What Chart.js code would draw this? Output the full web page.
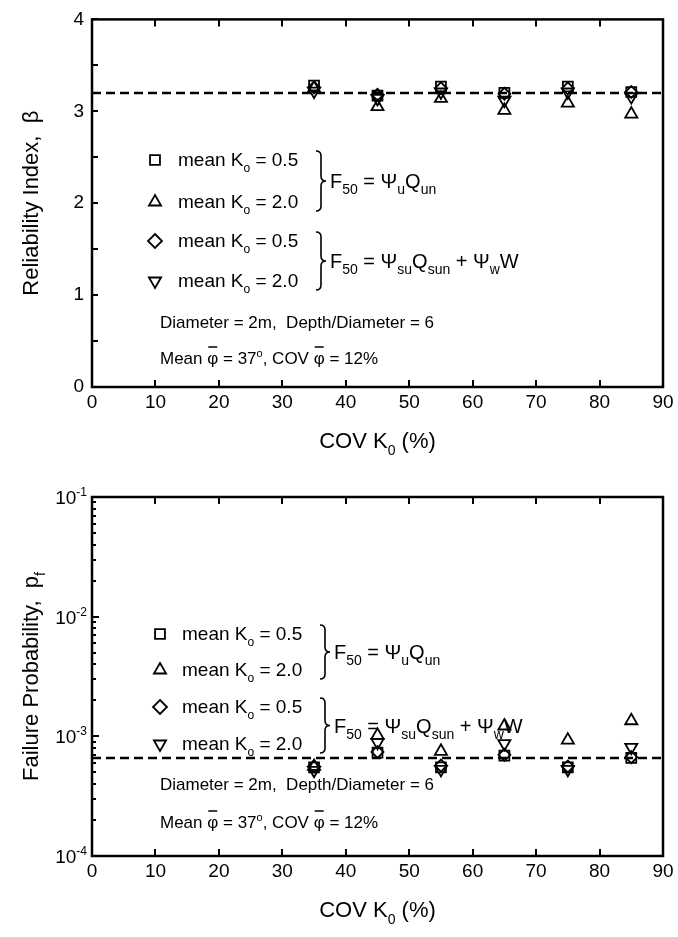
<!DOCTYPE html>
<html>
<head>
<meta charset="utf-8">
<script src="https://cdn.jsdelivr.net/npm/chart.js@4.4.1/dist/chart.umd.min.js"></script>
<style>
  html, body { margin: 0; padding: 0; background: #fff; }
  .box { position: relative; width: 678px; }
  #top-box { height: 468px; }
  #bottom-box { height: 469px; }
</style>
</head>
<body>
<div class="box" id="top-box"><canvas id="chart-beta"></canvas></div>
<div class="box" id="bottom-box"><canvas id="chart-pf"></canvas></div>
<script>
// COV of K0 (%)
const covK0 = [35, 45, 55, 65, 75, 85];
const xRange = [0, 90];
const xTickStep = 10;

// reliability index beta
const betaU05 = [3.28, 3.17, 3.27, 3.20, 3.27, 3.21];
const betaU20 = [3.25, 3.05, 3.14, 3.01, 3.09, 2.97];
const betaSu05 = [3.26, 3.18, 3.25, 3.19, 3.25, 3.21];
const betaSu20 = [3.22, 3.14, 3.21, 3.12, 3.21, 3.16];
const betaTarget = 3.2;
const betaRange = [0, 4];
const betaTickStep = 0.5;

// failure probability pf
const pfU05 = [5.5e-4, 7.3e-4, 5.5e-4, 6.9e-4, 5.5e-4, 6.6e-4];
const pfU20 = [5.6e-4, 1.02e-3, 7.5e-4, 1.22e-3, 9.3e-4, 1.35e-3];
const pfSu05 = [5.6e-4, 7.4e-4, 5.7e-4, 7.0e-4, 5.6e-4, 6.7e-4];
const pfSu20 = [5.2e-4, 8.9e-4, 5.3e-4, 8.7e-4, 5.3e-4, 8.1e-4];
const pfTarget = 6.6e-4;
const pfExponents = [-4, -3, -2, -1];

const FONT = "'Liberation Sans', Arial, Helvetica, sans-serif";

// tiny markup: _{sub} ^{sup} ~{overbar}
function parseRich(str) {
  const segs = [];
  const re = /([_^~])\{([^}]*)\}/g;
  let last = 0, m;
  while ((m = re.exec(str))) {
    if (m.index > last) segs.push({ t: str.slice(last, m.index) });
    segs.push({ t: m[2], sub: m[1] === '_', sup: m[1] === '^', bar: m[1] === '~' });
    last = re.lastIndex;
  }
  if (last < str.length) segs.push({ t: str.slice(last) });
  return segs;
}

function drawRich(ctx, str, x, y, size, align, subScale) {
  const k = subScale || 0.64;
  const parts = parseRich(str).map((s) => {
    const sz = (s.sub || s.sup) ? Math.round(size * k) : size;
    ctx.font = `${sz}px ${FONT}`;
    return Object.assign({}, s, { sz, w: ctx.measureText(s.t).width });
  });
  const total = parts.reduce((a, p) => a + p.w, 0);
  let cx = x;
  if (align === 'center') cx = x - total / 2;
  if (align === 'right') cx = x - total;
  ctx.textAlign = 'left';
  ctx.textBaseline = 'alphabetic';
  parts.forEach((p) => {
    ctx.font = `${p.sz}px ${FONT}`;
    let dy = 0;
    if (p.sub) dy = size * 0.3;
    if (p.sup) dy = -size * 0.42;
    ctx.fillText(p.t, cx, y + dy);
    if (p.bar) {
      ctx.save();
      ctx.lineWidth = 1.5;
      ctx.beginPath();
      ctx.moveTo(cx + 1, y - size * 1.0);
      ctx.lineTo(cx + p.w - 1, y - size * 1.0);
      ctx.stroke();
      ctx.restore();
    }
    cx += p.w;
  });
  return total;
}

function drawMarker(ctx, style, x, y, r) {
  ctx.save();
  ctx.lineWidth = 1.8;
  ctx.strokeStyle = '#000';
  ctx.beginPath();
  if (style === 'rect') {
    const s = r * Math.SQRT1_2;
    ctx.rect(x - s, y - s, 2 * s, 2 * s);
  } else if (style === 'rectRot') {
    ctx.moveTo(x, y - r); ctx.lineTo(x + r, y); ctx.lineTo(x, y + r); ctx.lineTo(x - r, y); ctx.closePath();
  } else {
    const sign = style === 'down' ? -1 : 1;
    ctx.moveTo(x, y - sign * r);
    ctx.lineTo(x + r * 0.866, y + sign * r * 0.5);
    ctx.lineTo(x - r * 0.866, y + sign * r * 0.5);
    ctx.closePath();
  }
  ctx.stroke();
  ctx.restore();
}

function drawBrace(ctx, x, top, bottom) {
  const mid = (top + bottom) / 2;
  ctx.save();
  ctx.lineWidth = 1.6;
  ctx.beginPath();
  ctx.moveTo(x, top);
  ctx.quadraticCurveTo(x + 5, top, x + 5, top + 5);
  ctx.lineTo(x + 5, mid - 5);
  ctx.quadraticCurveTo(x + 5, mid, x + 10, mid);
  ctx.quadraticCurveTo(x + 5, mid, x + 5, mid + 5);
  ctx.lineTo(x + 5, bottom - 5);
  ctx.quadraticCurveTo(x + 5, bottom, x, bottom);
  ctx.stroke();
  ctx.restore();
}

// frame, inward ticks, custom labels and in-plot notes
const framePlugin = {
  id: 'frame',
  afterDraw(chart, args, opts) {
    const { ctx, chartArea: a } = chart;
    const xs = chart.scales.x;
    const ys = chart.scales.y;
    ctx.save();
    ctx.strokeStyle = '#000';
    ctx.fillStyle = '#000';

    // x ticks, bottom and top
    ctx.lineWidth = 2;
    xs.ticks.forEach((t) => {
      const px = Math.round(xs.getPixelForValue(t.value));
      ctx.beginPath();
      ctx.moveTo(px, a.bottom); ctx.lineTo(px, a.bottom - 7);
      ctx.moveTo(px, a.top); ctx.lineTo(px, a.top + 7);
      ctx.stroke();
    });

    // y ticks on the left
    if (ys.type === 'logarithmic') {
      pfExponents.forEach((e, i) => {
        for (let m = 1; m <= 9; m++) {
          if (i === pfExponents.length - 1 && m > 1) break;
          const py = Math.round(ys.getPixelForValue(m * Math.pow(10, e)));
          const len = m === 1 ? 7 : 4;
          ctx.beginPath();
          ctx.moveTo(a.left, py); ctx.lineTo(a.left + len, py);
          ctx.stroke();
        }
        const py = ys.getPixelForValue(Math.pow(10, e));
        drawRich(ctx, '10^{' + e + '}', a.left - 5, py + 7, 19, 'right');
      });
    } else {
      ys.ticks.forEach((t) => {
        const py = Math.round(ys.getPixelForValue(t.value));
        ctx.beginPath();
        ctx.moveTo(a.left, py); ctx.lineTo(a.left + 6, py);
        ctx.stroke();
      });
    }

    // box
    ctx.lineWidth = 2.5;
    ctx.strokeRect(a.left, a.top, a.right - a.left, a.bottom - a.top);

    // axis titles
    drawRich(ctx, 'COV K_{0} (%)', (a.left + a.right) / 2, a.bottom + 61, 22, 'center');
    ctx.save();
    ctx.translate(38, (a.top + a.bottom) / 2);
    ctx.rotate(-Math.PI / 2);
    drawRich(ctx, opts.yTitle, 0, 0, 22, 'center');
    ctx.restore();

    // notes
    const n = opts.notes;
    const styles = ['rect', 'up', 'rectRot', 'down'];
    const labels = ['mean K_{o} = 0.5', 'mean K_{o} = 2.0', 'mean K_{o} = 0.5', 'mean K_{o} = 2.0'];
    n.rows.forEach((ry, i) => {
      drawMarker(ctx, styles[i], n.markerX, ry, 7);
      drawRich(ctx, labels[i], n.textX, ry + 6, 19, 'left');
    });
    const bx = n.braceX;
    drawBrace(ctx, bx, n.rows[0] - 9, n.rows[1] + 9);
    drawBrace(ctx, bx, n.rows[2] - 9, n.rows[3] + 9);
    drawRich(ctx, 'F_{50} = Ψ_{u}Q_{un}', bx + 14, (n.rows[0] + n.rows[1]) / 2 + 7, 20, 'left', 0.7);
    drawRich(ctx, 'F_{50} = Ψ_{su}Q_{sun} + Ψ_{w}W', bx + 14, (n.rows[2] + n.rows[3]) / 2 + 7, 20, 'left', 0.7);
    drawRich(ctx, 'Diameter = 2m,  Depth/Diameter = 6', n.infoX, n.info[0] + 6, 17, 'left');
    drawRich(ctx, 'Mean ~{φ} = 37^{o}, COV ~{φ} = 12%', n.infoX, n.info[1] + 6, 17, 'left');
    ctx.restore();
  },
};

function markerSet(label, xs, ys, style, rotation) {
  return {
    label,
    data: xs.map((x, i) => ({ x, y: ys[i] })),
    pointStyle: style,
    rotation: rotation || 0,
    pointRadius: style === 'rectRot' ? 6 : 7,
    pointBorderWidth: 1.8,
    borderColor: '#000',
    backgroundColor: 'rgba(0,0,0,0)',
    showLine: false,
  };
}

function buildChart(canvas, cfg) {
  return new Chart(canvas, {
    type: 'scatter',
    data: {
      datasets: [
        {
          type: 'line',
          label: 'target',
          data: xRange.map((x) => ({ x, y: cfg.target })),
          borderColor: '#000',
          borderWidth: 2.5,
          borderDash: [9, 5],
          pointRadius: 0,
          fill: false,
        },
        markerSet('mean K0 = 0.5, ΨuQun', covK0, cfg.series[0], 'rect'),
        markerSet('mean K0 = 2.0, ΨuQun', covK0, cfg.series[1], 'triangle'),
        markerSet('mean K0 = 0.5, ΨsuQsun + ΨwW', covK0, cfg.series[2], 'rectRot'),
        markerSet('mean K0 = 2.0, ΨsuQsun + ΨwW', covK0, cfg.series[3], 'triangle', 180),
      ],
    },
    options: {
      responsive: true,
      maintainAspectRatio: false,
      animation: false,
      devicePixelRatio: 1,
      layout: { padding: { top: cfg.padTop, right: 15, left: 0, bottom: 0 } },
      plugins: {
        legend: { display: false },
        tooltip: { enabled: false },
        frame: { yTitle: cfg.yTitle, notes: cfg.notes },
      },
      scales: {
        x: {
          type: 'linear',
          min: xRange[0],
          max: xRange[1],
          ticks: { stepSize: xTickStep, color: '#000', font: { family: FONT, size: 19 }, padding: 4, maxRotation: 0 },
          grid: { display: false, drawTicks: false },
          border: { display: false },
          afterFit: (s) => { s.height = 81; },
        },
        y: cfg.yScale,
      },
    },
    plugins: [framePlugin],
  });
}

buildChart(document.getElementById('chart-beta'), {
  target: betaTarget,
  series: [betaU05, betaU20, betaSu05, betaSu20],
  padTop: 15,
  yTitle: 'Reliability Index,  β',
  yScale: {
    type: 'linear',
    min: betaRange[0],
    max: betaRange[1],
    ticks: {
      stepSize: betaTickStep,
      color: '#000',
      font: { family: FONT, size: 19 },
      padding: 8,
      callback: (v) => (Number.isInteger(v) ? v : ''),
    },
    grid: { display: false, drawTicks: false },
    border: { display: false },
    afterFit: (s) => { s.width = 92; },
  },
  notes: { markerX: 155, textX: 178, rows: [160, 202, 241, 281], braceX: 316, infoX: 160, info: [322, 358] },
});

buildChart(document.getElementById('chart-pf'), {
  target: pfTarget,
  series: [pfU05, pfU20, pfSu05, pfSu20],
  padTop: 29,
  yTitle: 'Failure Probability,  p_{f}',
  yScale: {
    type: 'logarithmic',
    min: Math.pow(10, pfExponents[0]),
    max: Math.pow(10, pfExponents[pfExponents.length - 1]),
    ticks: { display: false },
    grid: { display: false, drawTicks: false },
    border: { display: false },
    afterFit: (s) => { s.width = 92; },
  },
  notes: { markerX: 160, textX: 182, rows: [166, 202, 239, 276], braceX: 320, infoX: 160, info: [316, 354] },
});
</script>
</body>
</html>
